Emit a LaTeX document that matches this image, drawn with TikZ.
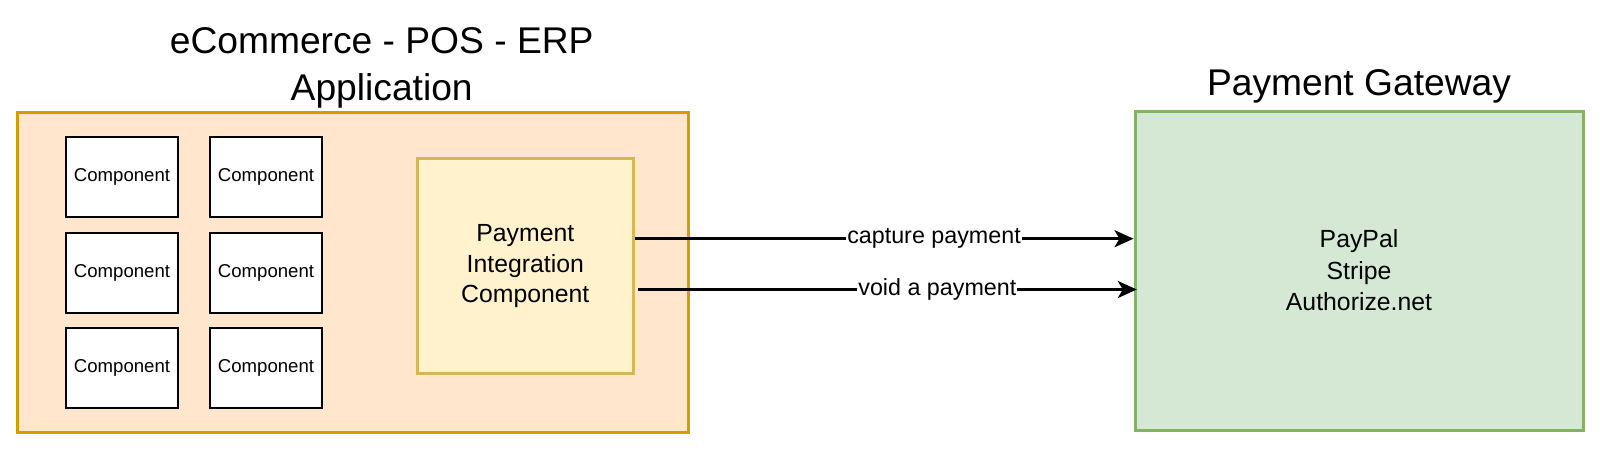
\documentclass[tikz,border=0pt]{standalone}
\usepackage{fontspec}
\setmainfont{Liberation Sans}
\usetikzlibrary{arrows.meta}
\definecolor{appfill}{HTML}{FFE6CC}
\definecolor{appdraw}{HTML}{D79B00}
\definecolor{pifill}{HTML}{FFF2CC}
\definecolor{pidraw}{HTML}{D6B656}
\definecolor{gwfill}{HTML}{D5E8D4}
\definecolor{gwdraw}{HTML}{82B366}
\tikzset{
  compbox/.style={draw=black, fill=white, line width=2pt, minimum width=112pt, minimum height=80pt, inner sep=0pt, font=\fontsize{18.6}{22}\selectfont},
  titletext/.style={align=center, font=\fontsize{37.2}{47}\selectfont, inner sep=0pt},
  arr/.style={line width=2.5pt, -{Stealth[length=19pt, width=17pt, inset=5pt]}},
  edgelabel/.style={fill=white, inner sep=1pt, font=\fontsize{23.3}{27}\selectfont},
}
\begin{document}
\begin{tikzpicture}[x=1pt, y=-1pt]
\path[use as bounding box] (0,0) rectangle (1600,450);
% application container
\node[draw=appdraw, fill=appfill, line width=3pt, minimum width=671pt, minimum height=320pt, inner sep=0pt] (app) at (353,272.7) {};
\node[titletext, anchor=base] (apptitle) at (381.7,100) {eCommerce - POS - ERP\\Application};
% components
\node[compbox] (c11) at (122,177) {Component};
\node[compbox] (c12) at (266,177) {Component};
\node[compbox] (c21) at (122,273) {Component};
\node[compbox] (c22) at (266,273) {Component};
\node[compbox] (c31) at (122,368) {Component};
\node[compbox] (c32) at (266,368) {Component};
% payment integration
\node[draw=pidraw, fill=pifill, line width=3pt, minimum width=216pt, minimum height=215pt, inner sep=0pt, align=center, font=\fontsize{24.8}{30.6}\selectfont] (pi) at (525.3,266.3) {Payment\\Integration\\Component};
% gateway
\node[draw=gwdraw, fill=gwfill, line width=3pt, minimum width=448pt, minimum height=319pt, inner sep=0pt, align=center, font=\fontsize{24.8}{31.5}\selectfont] (gw) at (1359,270.5) {PayPal\\Stripe\\Authorize.net};
\node[titletext, anchor=base] (gwtitle) at (1359,95) {Payment Gateway};
% connectors
\coordinate (yc) at (0,238.7);
\coordinate (yv) at (0,289.5);
\draw[arr] (pi.east |- yc) -- node[edgelabel, pos=0.6] {capture payment} (gw.west |- yc);
\draw[arr] ([xshift=3.4pt]pi.east |- yv) -- node[edgelabel, pos=0.6] {void a payment} ([xshift=3.3pt]gw.west |- yv);
\end{tikzpicture}
\end{document}
